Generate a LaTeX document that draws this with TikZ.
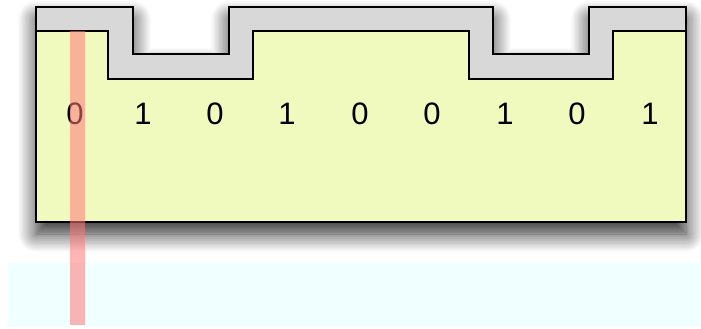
\documentclass[tikz,border=0pt]{standalone}
\usepackage{fontspec}
\setmainfont{Liberation Sans}
\usetikzlibrary{shadows.blur}
\definecolor{layergray}{RGB}{216,216,216}
\definecolor{baseyellow}{RGB}{240,250,190}
\definecolor{bandcyan}{RGB}{240,255,255}
\definecolor{beamred}{RGB}{255,120,120}
\tikzset{
  outline/.style={draw=black, line width=1.8pt, line join=miter},
  bit/.style={font=\fontsize{31}{32}\selectfont, inner sep=0pt, anchor=base},
  beam/.style={draw=beamred, line width=15pt, opacity=0.55}
}
\begin{document}
\begin{tikzpicture}[x=1pt,y=-1pt]
\useasboundingbox (0,0) rectangle (701,329);
% cyan band
\fill[bandcyan] (8,263) rectangle (701,327);
% gray protective layer with shadow
\path[outline, fill=layergray, blur shadow={shadow xshift=0pt, shadow yshift=-12pt, shadow blur radius=18pt, shadow opacity=85, shadow blur steps=14}]
  (36,7) -- (133,7) -- (133,54) -- (229,54) -- (229,7) -- (493,7) -- (493,54)
  -- (589,54) -- (589,7) -- (686,7) -- (686,222) -- (36,222) -- cycle;
% yellow substrate
\path[outline, fill=baseyellow]
  (36,31) -- (108,31) -- (108,79) -- (253,79) -- (253,31) -- (469,31) -- (469,79)
  -- (613,79) -- (613,31) -- (686,31) -- (686,222) -- (36,222) -- cycle;
% bits
\foreach \x/\b [count=\i] in {75/0,143/1,215/0,287/1,360/0,432/0,505/1,577/0,650/1}
  \node[bit] (b\i) at (\x,124) {\b};
% laser beam
\coordinate (beamtop) at (77,31);
\coordinate (beambot) at (77,325);
\draw[beam] (beamtop) -- (beambot);
\end{tikzpicture}
\end{document}
